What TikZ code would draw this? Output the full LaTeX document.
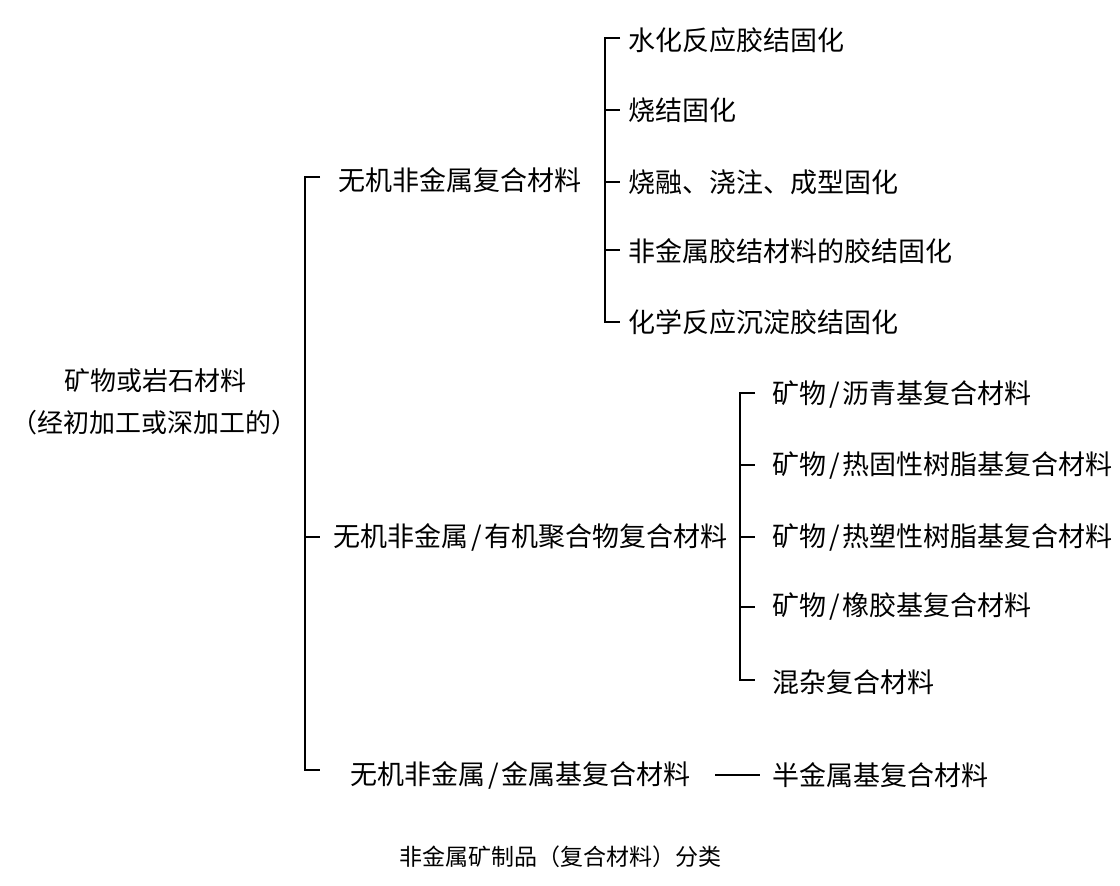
\documentclass[tikz,border=0pt]{standalone}
\usepackage{fontspec}
\setmainfont{Noto Sans CJK SC}
\newcommand{\myslash}{\hspace{3pt}/\hspace{3pt}}
\begin{document}
\begin{tikzpicture}[x=1pt,y=-1pt,
  lbl/.style={anchor=west,inner sep=0pt,font=\fontsize{27}{30}\selectfont},
  ln/.style={line width=1.6pt}]
\useasboundingbox[fill=white] (0,0) rectangle (1120,886);
\node[inner sep=0pt,font=\fontsize{26}{30}\selectfont] (r1) at (155,381) {矿物或岩石材料};
\node[inner sep=0pt,font=\fontsize{26}{30}\selectfont] (r2) at (155,423) {（经初加工或深加工的）};
% level 1
\coordinate (b1t) at (305,177); \coordinate (b1b) at (305,770);
\draw[ln] (320,177) -- (b1t) -- (b1b) -- (320,770);
\draw[ln] (305,537) -- (320,537);
\node[lbl] (a) at (338,180) {无机非金属复合材料};
\node[lbl] (b) at (333,537) {无机非金属\myslash 有机聚合物复合材料};
\node[lbl] (c) at (350,775) {无机非金属\myslash 金属基复合材料};
% level 2a
\draw[ln] (620,38) -- (605,38) -- (605,322) -- (620,322);
\foreach \y in {110,182,250} \draw[ln] (605,\y) -- (620,\y);
\node[lbl] (a1) at (628,40) {水化反应胶结固化};
\node[lbl] (a2) at (628,110) {烧结固化};
\node[lbl] (a3) at (628,182) {烧融、浇注、成型固化};
\node[lbl] (a4) at (628,251) {非金属胶结材料的胶结固化};
\node[lbl] (a5) at (628,322) {化学反应沉淀胶结固化};
% level 2b
\draw[ln] (755,393) -- (740,393) -- (740,680) -- (755,680);
\foreach \y in {465,537,607} \draw[ln] (740,\y) -- (755,\y);
\node[lbl] (b1) at (772,395) {矿物\myslash 沥青基复合材料};
\node[lbl] (b2) at (772,466) {矿物\myslash 热固性树脂基复合材料};
\node[lbl] (b3) at (772,538) {矿物\myslash 热塑性树脂基复合材料};
\node[lbl] (b4) at (772,607) {矿物\myslash 橡胶基复合材料};
\node[lbl] (b5) at (772,682) {混杂复合材料};
% level 2c
\node[lbl] (c1) at (772,775) {半金属基复合材料};
\draw[ln] (715,775) -- (760,775);
\node[inner sep=0pt,font=\fontsize{23}{28}\selectfont] (cap) at (560,857) {非金属矿制品（复合材料）分类};
\end{tikzpicture}
\end{document}
